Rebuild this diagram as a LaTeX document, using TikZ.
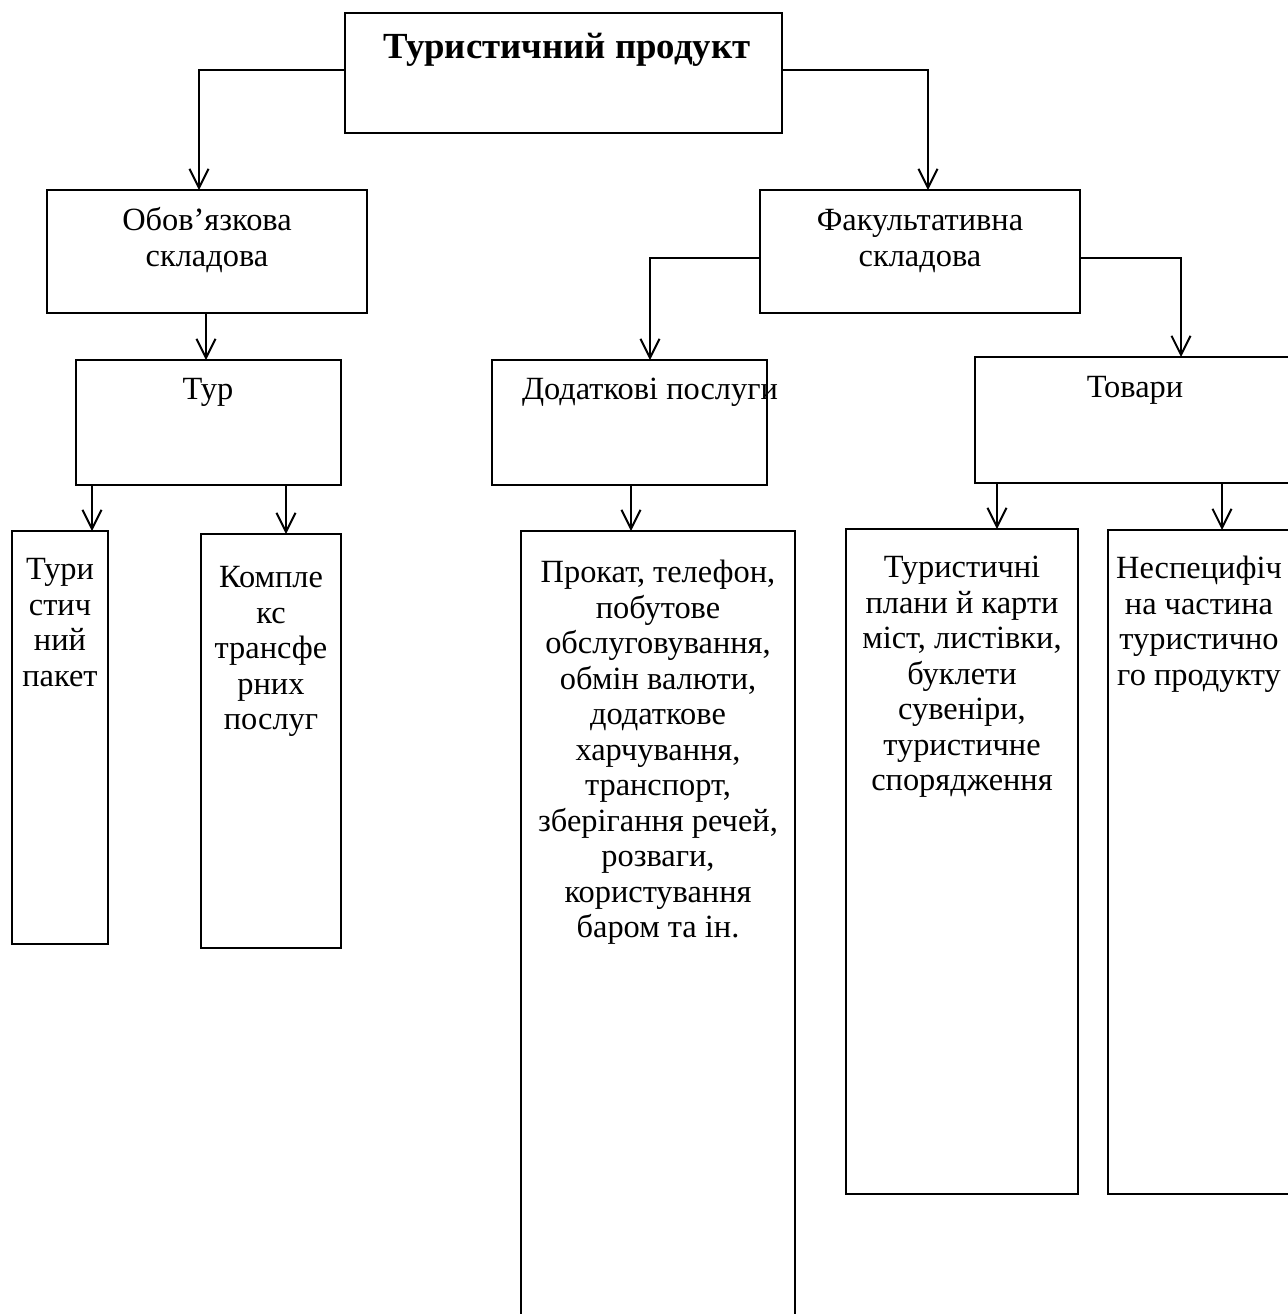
\documentclass[tikz,border=0pt]{standalone}
\usepackage{fontspec}
\setmainfont{Liberation Serif}
\usetikzlibrary{arrows.meta,fit}
\begin{document}
\begin{tikzpicture}[x=0.5pt,y=-0.5pt,
  box/.style={draw, line width=0.9pt, inner sep=0pt, outer sep=0pt},
  txt/.style={font=\fontsize{16.2pt}{17.75pt}\selectfont, align=center, inner sep=0pt, anchor=north},
  ttl/.style={font=\fontsize{18.4pt}{20pt}\selectfont\bfseries, inner sep=0pt, anchor=north},
  arr/.style={line width=1pt, -{Straight Barb[length=9.5pt,width=9.5pt]}}]
\useasboundingbox (0,0) rectangle (1288,1314);
\clip (0,0) rectangle (1288,1314);
\fill[white] (0,0) rectangle (1288,1314);

% boxes
\node[box, fit={(345,13)(782,133)}] (top) {};
\node[box, fit={(47,190)(367,313)}] (obov) {};
\node[box, fit={(760,190)(1080,313)}] (fak) {};
\node[box, fit={(76,360)(341,485)}] (tur) {};
\node[box, fit={(492,360)(767,485)}] (dod) {};
\node[box, fit={(975,357)(1300,483)}] (tov) {};
\node[box, fit={(12,531)(108,944)}] (pak) {};
\node[box, fit={(201,534)(341,948)}] (kom) {};
\node[box, fit={(521,531)(795,1340)}] (pro) {};
\node[box, fit={(846,529)(1078,1194)}] (pla) {};
\node[box, fit={(1108,530)(1300,1194)}] (nes) {};

% texts
\node[ttl] (ttop) at (567,33) {Туристичний продукт};
\node[txt] (tobov) at (207,207) {Обов’язкова\\складова};
\node[txt] (tfak) at (920,209) {Факультативна\\складова};
\node[txt] (ttur) at (208,378) {Тур};
\node[txt] (tdod) at (650,378) {Додаткові послуги};
\node[txt] (ttov) at (1135,376) {Товари};
\node[txt] (tpak) at (60,558) {Тури\\стич\\ний\\пакет};
\node[txt] (tkom) at (271,566) {Компле\\кс\\трансфе\\рних\\послуг};
\node[txt] (tpro) at (658,560) {Прокат, телефон,\\побутове\\обслуговування,\\обмін валюти,\\додаткове\\харчування,\\транспорт,\\зберігання речей,\\розваги,\\користування\\баром та ін.};
\node[txt] (tpla) at (962,556) {Туристичні\\плани й карти\\міст, листівки,\\буклети\\сувеніри,\\туристичне\\спорядження};
\node[txt] (tnes) at (1199,556) {Неспецифіч\\на частина\\туристично\\го продукту};

% connector x positions
\coordinate (xa) at (199,70);
\coordinate (xb) at (928,70);
\coordinate (xc) at (206,0);
\coordinate (xd) at (650,258);
\coordinate (xe) at (1181,258);
\coordinate (xf) at (92,0);
\coordinate (xg) at (286,0);
\coordinate (xh) at (631,0);
\coordinate (xi) at (997,0);
\coordinate (xj) at (1222,0);

\draw[arr] (top.west |- xa) -- (xa) -- (obov.north -| xa);
\draw[arr] (top.east |- xb) -- (xb) -- (fak.north -| xb);
\draw[arr] (obov.south -| xc) -- (tur.north -| xc);
\draw[arr] (fak.west |- xd) -- (xd) -- (dod.north -| xd);
\draw[arr] (fak.east |- xe) -- (xe) -- (tov.north -| xe);
\draw[arr] (tur.south -| xf) -- (pak.north -| xf);
\draw[arr] (tur.south -| xg) -- (kom.north -| xg);
\draw[arr] (dod.south -| xh) -- (pro.north -| xh);
\draw[arr] (tov.south -| xi) -- (pla.north -| xi);
\draw[arr] (tov.south -| xj) -- (nes.north -| xj);
\end{tikzpicture}
\end{document}
